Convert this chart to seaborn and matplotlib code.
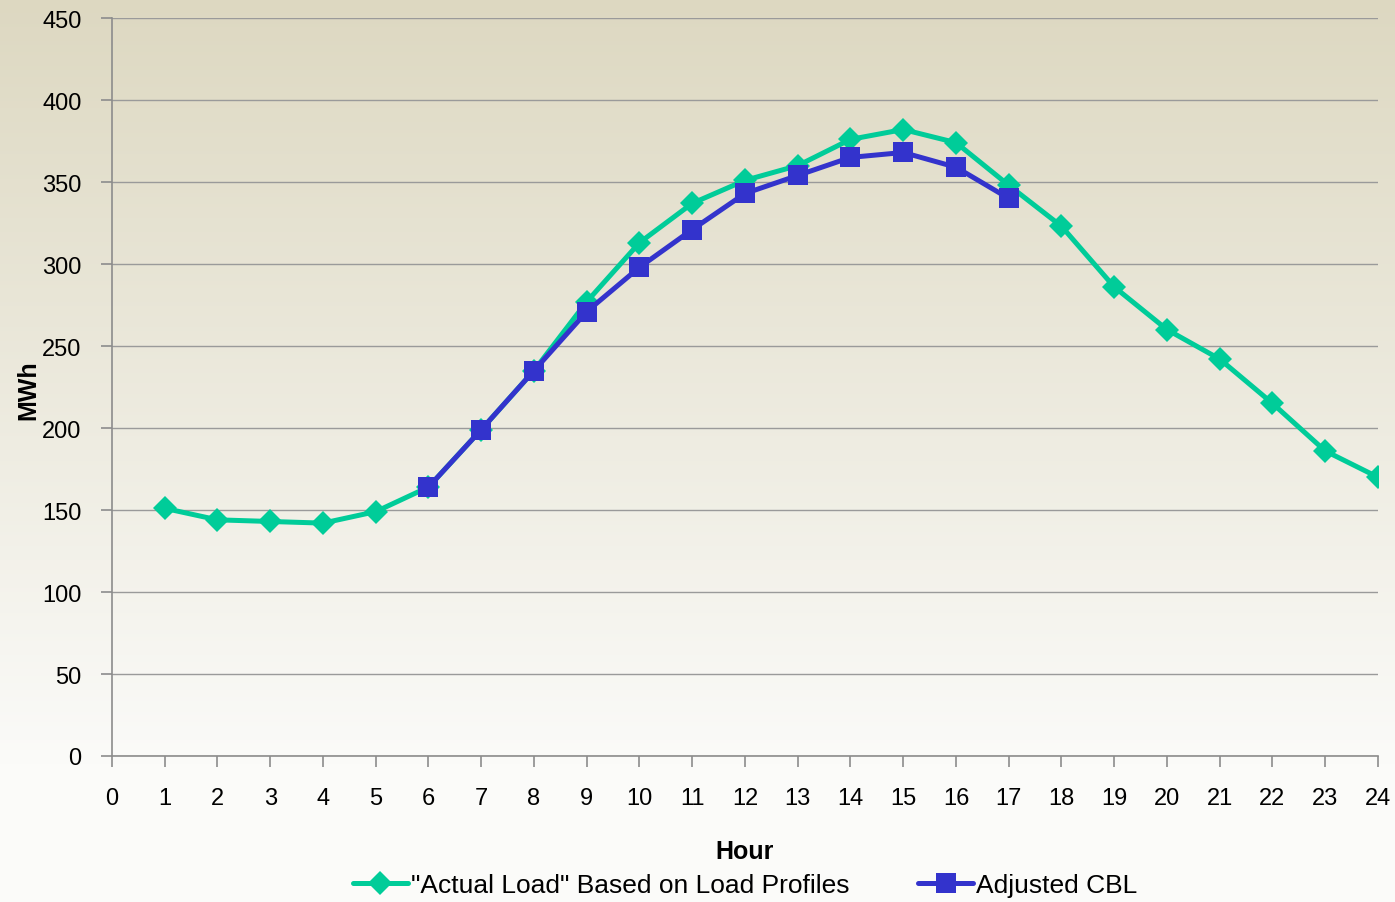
import numpy as np
import pandas as pd
import matplotlib
matplotlib.use("Agg")
import matplotlib.pyplot as plt
import seaborn as sns

hours_actual = list(range(1, 25))
actual_load = [151, 144, 143, 142, 149, 164, 199, 235, 277, 313, 337, 351,
               360, 376, 382, 374, 348, 323, 286, 260, 242, 215, 186, 170]
hours_cbl = list(range(6, 18))
adjusted_cbl = [164, 199, 235, 271, 298, 321, 343, 354, 365, 368, 359, 340]

label_actual = '"Actual Load" Based on Load Profiles'
label_cbl = "Adjusted CBL"
x_ticks = list(range(0, 25))
y_ticks = list(range(0, 451, 50))

sns.set_theme(style="white")
plt.rcParams["font.family"] = ["Liberation Sans", "DejaVu Sans"]

fig = plt.figure(figsize=(13.95, 9.03), dpi=100)

# gradient background
bg = fig.add_axes([0, 0, 1, 1], zorder=0)
top = np.array([221, 216, 193]) / 255
bot = np.array([251, 251, 249]) / 255
t = np.linspace(0, 1, 256)[:, None]
grad = np.where(t < 0.85, top * (1 - t / 0.85) + bot * (t / 0.85), bot)
bg.imshow(grad[:, None, :], aspect="auto", extent=[0, 1, 0, 1])
bg.axis("off")

ax = fig.add_axes([112 / 1395, 1 - 757 / 903, (1378 - 112) / 1395, (757 - 19) / 903], zorder=1)
ax.patch.set_alpha(0)

df_a = pd.DataFrame({"Hour": hours_actual, "MWh": actual_load})
df_c = pd.DataFrame({"Hour": hours_cbl, "MWh": adjusted_cbl})

sns.lineplot(data=df_a, x="Hour", y="MWh", ax=ax, color="#00CC99", lw=3.6,
             marker="D", markersize=12, markeredgewidth=0, label=label_actual)
sns.lineplot(data=df_c, x="Hour", y="MWh", ax=ax, color="#3333CC", lw=3.6,
             marker="s", markersize=15, markeredgewidth=0, label=label_cbl)

ax.set_xlim(0, 24)
ax.set_ylim(0, 450)
ax.set_xticks(x_ticks)
ax.set_yticks(y_ticks)
ax.tick_params(axis="both", labelsize=17, labelcolor="black", length=8, width=1.2,
               color="#8c8c8c", direction="out", left=True, bottom=True)
ax.tick_params(axis="y", pad=14)
ax.tick_params(axis="x", pad=14)
ax.yaxis.grid(True, color="#9a9a9a", lw=1)
ax.xaxis.grid(False)
for s in ["top", "right"]:
    ax.spines[s].set_visible(False)
for s in ["left", "bottom"]:
    ax.spines[s].set_color("#8c8c8c")
    ax.spines[s].set_linewidth(1.2)
ax.set_xlabel("Hour", fontsize=18, fontweight="bold", labelpad=22, color="black")
ax.set_ylabel("MWh", fontsize=18, fontweight="bold", labelpad=0, color="black")
ax.yaxis.set_label_coords(-72 / 1266, (757 - 390) / 738)

leg = ax.legend(loc="center", bbox_to_anchor=(0.5, (903 - 886 - 146) / 738), ncol=2, frameon=False,
                fontsize=19, handlelength=2.1, handletextpad=0.1, columnspacing=2.6)
for txt in leg.get_texts():
    txt.set_color("black")

fig.savefig("out.png", dpi=100)
